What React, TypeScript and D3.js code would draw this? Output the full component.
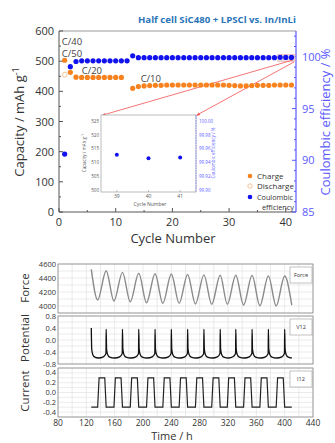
import React from "react";
import * as d3 from "d3";

// ---------- Top chart data ----------
const chargeCycles = [1, 2, 3, 4, 5, 6, 7, 8, 9, 10, 11, 13, 14, 15, 16, 17, 18, 19, 20, 21, 22, 23, 24, 25, 26, 27, 28, 29, 30, 31, 32, 33, 34, 35, 36, 37, 38, 39, 40, 41];
const chargeCap = [503, 463, 447, 446, 446, 446, 446, 446, 446, 446, 446, 410, 416, 418, 419, 420, 420, 421, 421, 421, 421, 421, 421, 421, 421, 421, 421, 421, 420, 419, 418, 418, 419, 420, 420, 420, 421, 421, 421, 421];
const dischargeCycles = [1];
const dischargeCap = [455];
const ceCycles = [1, 2, 3, 4, 5, 6, 7, 8, 9, 10, 11, 12, 13, 14, 15, 16, 17, 18, 19, 20, 21, 22, 23, 24, 25, 26, 27, 28, 29, 30, 31, 32, 33, 34, 35, 36, 37, 38, 39, 40, 41];
const ceValues = [90.6, 99.05, 99.55, 99.62, 99.62, 99.62, 99.62, 99.62, 99.62, 99.62, 99.62, 99.62, 100.1, 99.92, 99.92, 99.92, 99.92, 99.92, 99.92, 99.92, 99.92, 99.92, 99.92, 99.92, 99.92, 99.92, 99.92, 99.92, 99.92, 99.92, 99.92, 99.92, 99.92, 99.92, 99.92, 99.92, 99.92, 99.92, 99.951, 99.946, 99.947];
const xTicksTop = [0, 10, 20, 30, 40];
const yTicksLeft = [0, 100, 200, 300, 400, 500, 600];
const yTicksRight = [85, 90, 95, 100];
const rateLabels = ["C/40", "C/50", "C/20", "C/10"];
const rateLabelCycle = [0.5, 0.5, 4.0, 14.4];
const rateLabelCap = [555, 514, 458, 432];

// inset
const insetCycles = [39, 40, 41];
const insetCE = [99.951, 99.946, 99.947];
const insetXTicks = [39, 40, 41];
const insetLeftTicks = [500, 505, 510, 515, 520, 525];
const insetRightTicks = [99.9, 99.92, 99.94, 99.96, 99.98, 100.0];

// ---------- Bottom chart data ----------
const timeTicks = [80, 120, 160, 200, 240, 280, 320, 360, 400, 440];
const forceTicks = [4000, 4200, 4400, 4600];
const potTicks = [-0.8, -0.4, 0.0, 0.4, 0.8];
const curTicks = [-0.4, -0.2, 0.0, 0.2, 0.4];

const forceT = [127, 136, 148, 159, 171, 182, 194, 205, 217, 228, 240, 251, 263, 274, 286, 297, 309, 319, 331, 342, 354, 365, 377, 388, 400, 410];
const forceV = [4524, 4086, 4504, 4071, 4481, 4061, 4467, 4047, 4460, 4038, 4457, 4038, 4450, 4029, 4445, 4024, 4440, 4024, 4440, 4014, 4437, 4004, 4430, 4000, 4429, 4014];

const potT = [127, 127.6, 129, 132, 137, 144, 147.7, 148, 148.6, 150, 153, 160, 167, 170.7, 171, 171.6, 173, 176, 183, 190, 193.7, 194, 194.6, 196, 199, 206, 213, 216.7, 217, 217.6, 219, 222, 229, 236, 239.7, 240, 240.6, 242, 245, 252, 259, 262.7, 263, 263.6, 265, 268, 275, 282, 285.7, 286, 286.6, 288, 291, 298, 305, 308.7, 309, 309.6, 311, 314, 321, 327, 330.7, 331, 331.6, 333, 336, 343, 350, 353.7, 354, 354.6, 356, 359, 366, 373, 376.7, 377, 377.6, 379, 382, 389, 396, 399.7, 400, 400.6, 402, 405, 410];
const potV = [0.4, -0.3, -0.48, -0.57, -0.6, -0.56, -0.45, 0.36, -0.3, -0.48, -0.57, -0.6, -0.56, -0.45, 0.36, -0.3, -0.48, -0.57, -0.6, -0.56, -0.45, 0.36, -0.3, -0.48, -0.57, -0.6, -0.56, -0.45, 0.36, -0.3, -0.48, -0.57, -0.6, -0.56, -0.45, 0.36, -0.3, -0.48, -0.57, -0.6, -0.56, -0.45, 0.36, -0.3, -0.48, -0.57, -0.6, -0.56, -0.45, 0.36, -0.3, -0.48, -0.57, -0.6, -0.56, -0.45, 0.36, -0.3, -0.48, -0.57, -0.6, -0.56, -0.45, 0.36, -0.3, -0.48, -0.57, -0.6, -0.56, -0.45, 0.36, -0.3, -0.48, -0.57, -0.6, -0.56, -0.45, 0.36, -0.3, -0.48, -0.57, -0.6, -0.56, -0.45, 0.36, -0.3, -0.48, -0.57, -0.6];

const curT = [127, 136, 138, 146, 148, 159, 161, 169, 171, 182, 184, 192, 194, 205, 207, 215, 217, 228, 230, 238, 240, 251, 253, 261, 263, 274, 276, 284, 286, 297, 299, 307, 309, 319, 321, 329, 331, 342, 344, 352, 354, 365, 367, 375, 377, 388, 390, 398, 400, 410];
const curV = [-0.3, -0.3, 0.3, 0.3, -0.3, -0.3, 0.3, 0.3, -0.3, -0.3, 0.3, 0.3, -0.3, -0.3, 0.3, 0.3, -0.3, -0.3, 0.3, 0.3, -0.3, -0.3, 0.3, 0.3, -0.3, -0.3, 0.3, 0.3, -0.3, -0.3, 0.3, 0.3, -0.3, -0.3, 0.3, 0.3, -0.3, -0.3, 0.3, 0.3, -0.3, -0.3, 0.3, 0.3, -0.3, -0.3, 0.3, 0.3, -0.3, -0.3];

const ORANGE = "#f7821f";
const LIGHT_OR = "#f6c49a";
const BLUE = "#1212ee";
const AXBLUE = "#5a5aff";
const GRAY = "#555";
const FONT = "'Open Sans', 'Noto Sans', sans-serif";

export default function App() {
  // top chart scales
  const x = d3.scaleLinear().domain([0, 41.8]).range([59, 296]);
  const yL = d3.scaleLinear().domain([0, 600]).range([212, 31]);
  const yR = d3.scaleLinear().domain([85, 102.5]).range([212, 31]);

  // inset scales
  const ix = d3.scaleLinear().domain([38.5, 41.5]).range([101, 196]);
  const iyR = d3.scaleLinear().domain([99.9, 100.0]).range([190, 121]);
  const iyL = d3.scaleLinear().domain([500, 525]).range([190, 121]);

  // bottom scales
  const tx = d3.scaleLinear().domain([80, 440]).range([58, 313]);
  const yF = d3.scaleLinear().domain([3900, 4600]).range([313, 264]);
  const yP = d3.scaleLinear().domain([-0.8, 0.8]).range([364, 316]);
  const yC = d3.scaleLinear().domain([-0.5, 0.5]).range([417, 368]);

  const forceLine = d3.line<number>().x((_, i) => tx(forceT[i])).y((d) => yF(d)).curve(d3.curveMonotoneX)(forceV) || "";
  const potLine = d3.line<number>().x((_, i) => tx(potT[i])).y((d) => yP(d)).curve(d3.curveMonotoneX)(potV) || "";
  const curLine = d3.line<number>().x((_, i) => tx(curT[i])).y((d) => yC(d))(curV) || "";

  const minorX = d3.range(0, 42, 5);
  const minorL = d3.range(0, 601, 50);
  const minorR = d3.range(85, 102.1, 1);

  const panels = [
    { name: "Force", top: 264, bottom: 313, scale: yF, ticks: forceTicks, grid: d3.range(3900, 4601, 100), fmt: (v: number) => String(v), label: "Force", box: "Force", lc: 288 },
    { name: "Potential", top: 316, bottom: 364, scale: yP, ticks: potTicks, grid: d3.range(-0.8, 0.81, 0.2), fmt: (v: number) => v.toFixed(1), label: "Potential", box: "V12", lc: 338 },
    { name: "Current", top: 368, bottom: 417, scale: yC, ticks: curTicks, grid: d3.range(-0.5, 0.51, 0.1), fmt: (v: number) => v.toFixed(1), label: "Current", box: "I12", lc: 391 },
  ];
  const gridX = d3.range(80, 441, 20);

  return (
    <svg width={335} height={443} style={{ position: "absolute", left: 0, top: 0, background: "#fff" }} fontFamily={FONT}>
      {/* Title */}
      <text x={296} y={23} textAnchor="end" fontSize={9.5} fontWeight="bold" fill="#2a74b8" textLength={158} lengthAdjust="spacingAndGlyphs">Half cell SiC480 + LPSCl vs. In/InLi</text>

      {/* top frame */}
      <line x1={59} x2={296} y1={31} y2={31} stroke="#999" strokeWidth={1} />
      <line x1={59} x2={59} y1={31} y2={212} stroke={GRAY} strokeWidth={1} />
      <line x1={59} x2={296} y1={212} y2={212} stroke={GRAY} strokeWidth={1} />
      <line x1={296} x2={296} y1={31} y2={212} stroke={AXBLUE} strokeWidth={1.2} />

      {/* x ticks */}
      {minorX.map((v) => (
        <line key={"mx" + v} x1={x(v)} x2={x(v)} y1={212} y2={v % 10 === 0 ? 208 : 210} stroke={GRAY} />
      ))}
      {xTicksTop.map((v) => (
        <text key={"xt" + v} x={x(v)} y={226} textAnchor="middle" fontSize={11} fill="#333">{v}</text>
      ))}
      {minorL.map((v) => (
        <line key={"ml" + v} x1={59} x2={v % 100 === 0 ? 63 : 61} y1={yL(v)} y2={yL(v)} stroke={GRAY} />
      ))}
      {yTicksLeft.map((v) => (
        <text key={"yl" + v} x={54} y={yL(v) + 4} textAnchor="end" fontSize={11} fill="#333">{v}</text>
      ))}
      {minorR.map((v) => (
        <line key={"mr" + v} x1={296} x2={Math.round(v) % 5 === 0 ? 292 : 294} y1={yR(v)} y2={yR(v)} stroke={AXBLUE} />
      ))}
      {yTicksRight.map((v) => (
        <text key={"yr" + v} x={302} y={yR(v) + 4} fontSize={11} fill={AXBLUE}>{v}</text>
      ))}

      {/* axis titles */}
      <text x={173} y={243} textAnchor="middle" fontSize={13} fill="#333">Cycle Number</text>
      <text transform={`translate(24,122) rotate(-90)`} textAnchor="middle" fontSize={13} fill="#333">
        Capacity / mAh g<tspan dy={-5} fontSize={9}>-1</tspan>
      </text>
      <text transform={`translate(330,122) rotate(-90)`} textAnchor="middle" fontSize={13} fill={AXBLUE}>Coulombic efficiency / %</text>

      {/* rate labels */}
      {rateLabels.map((t, i) => (
        <text key={t} x={x(rateLabelCycle[i])} y={yL(rateLabelCap[i])} fontSize={9.5} fill="#444">{t}</text>
      ))}

      {/* magnifier rect and lines */}
      <rect x={x(38.6)} y={yR(100.25)} width={x(41.6) - x(38.6)} height={yR(99.55) - yR(100.25)} fill="#d8c8c8" fillOpacity={0.6} stroke="#f0b0b0" strokeWidth={0.6} />
      <line x1={293} y1={60} x2={103} y2={115} stroke="#f25050" strokeWidth={0.8} />
      <line x1={294} y1={62} x2={197} y2={115} stroke="#f25050" strokeWidth={0.8} />
      <path d="M101,116 l4,-3 l0.5,2.5 z" fill="#f25050" />
      <path d="M196,116 l3,-3.5 l1,2.5 z" fill="#f25050" />

      {/* data */}
      {dischargeCycles.map((c, i) => (
        <circle key={"d" + c} cx={x(c)} cy={yL(dischargeCap[i])} r={2.4} fill="#fff" stroke={LIGHT_OR} strokeWidth={1} />
      ))}
      {chargeCycles.map((c, i) => (
        <circle key={"c" + c} cx={x(c)} cy={yL(chargeCap[i])} r={2.6} fill={ORANGE} />
      ))}
      {ceCycles.map((c, i) => (
        <circle key={"e" + c} cx={x(c)} cy={yR(ceValues[i])} r={2.6} fill={BLUE} />
      ))}

      {/* inset */}
      <rect x={101} y={115} width={95} height={77} fill="#fff" stroke="#aaa" strokeWidth={0.8} />
      <line x1={196} x2={196} y1={115} y2={192} stroke={AXBLUE} strokeWidth={0.6} strokeDasharray="1.5,1" />
      {insetXTicks.map((v) => (
        <g key={"ix" + v}>
          <line x1={ix(v)} x2={ix(v)} y1={192} y2={190} stroke="#888" strokeWidth={0.5} />
          <text x={ix(v)} y={198} textAnchor="middle" fontSize={5} fill="#555">{v}</text>
        </g>
      ))}
      {insetLeftTicks.map((v) => (
        <text key={"il" + v} x={99} y={iyL(v) + 1.8} textAnchor="end" fontSize={4.5} fill="#555">{v}</text>
      ))}
      {insetRightTicks.map((v) => (
        <text key={"ir" + v} x={199} y={iyR(v) + 1.8} fontSize={4.5} fill={AXBLUE}>{v.toFixed(2)}</text>
      ))}
      <text x={150} y={206} textAnchor="middle" fontSize={5} fill="#555">Cycle Number</text>
      <text transform="translate(86,153) rotate(-90)" textAnchor="middle" fontSize={4.5} fill="#555">Capacity / mAh g<tspan dy={-2} fontSize={3.5}>-1</tspan></text>
      <text transform="translate(215,153) rotate(-90)" textAnchor="middle" fontSize={4.5} fill={AXBLUE}>Coulombic efficiency / %</text>
      {insetCycles.map((c, i) => (
        <circle key={"ic" + c} cx={ix(c)} cy={iyR(insetCE[i])} r={2} fill={BLUE} />
      ))}

      {/* legend */}
      <circle cx={250} cy={176} r={2.3} fill={ORANGE} />
      <text x={257} y={179} fontSize={8} fill="#333">Charge</text>
      <circle cx={250} cy={186} r={2.2} fill="#fff" stroke={LIGHT_OR} strokeWidth={1} />
      <text x={257} y={189} fontSize={8} fill="#333">Discharge</text>
      <circle cx={250} cy={197} r={2.3} fill={BLUE} />
      <text x={257} y={199.5} fontSize={8} fill="#333" textLength={36} lengthAdjust="spacingAndGlyphs">Coulombic</text>
      <text x={262} y={209.5} fontSize={8} fill="#333" textLength={32} lengthAdjust="spacingAndGlyphs">efficiency</text>

      {/* bottom panels */}
      {panels.map((p) => (
        <g key={p.name}>
          {gridX.map((g) => (
            <line key={"gx" + g} x1={tx(g)} x2={tx(g)} y1={p.top} y2={p.bottom} stroke="#ddd" strokeWidth={0.6} />
          ))}
          {p.grid.map((g) => (
            <line key={"gy" + g} x1={tx(80)} x2={tx(440)} y1={p.scale(g)} y2={p.scale(g)} stroke="#ddd" strokeWidth={0.6} />
          ))}
          <rect x={tx(80)} y={p.top} width={tx(440) - tx(80)} height={p.bottom - p.top} fill="none" stroke="#888" strokeWidth={0.8} />
          {p.ticks.map((v) => (
            <text key={"t" + v} x={tx(80) - 2} y={p.scale(v) + 2.5} textAnchor="end" fontSize={7.5} fill="#333">{p.fmt(v)}</text>
          ))}
          <text transform={`translate(29,${p.lc}) rotate(-90)`} textAnchor="middle" fontSize={11.5} fill="#333">{p.label}</text>
          <rect x={290} y={p.top + 3} width={22} height={16} fill="#fff" stroke="#999" strokeWidth={0.6} />
          <text x={301} y={p.top + 13} textAnchor="middle" fontSize={5.5} fill="#333">{p.box}</text>
        </g>
      ))}
      <path d={forceLine} fill="none" stroke="#8a8a8a" strokeWidth={1.4} />
      <path d={potLine} fill="none" stroke="#111" strokeWidth={1.3} />
      <path d={curLine} fill="none" stroke="#222" strokeWidth={1.2} />
      {timeTicks.map((v) => (
        <text key={"tt" + v} x={tx(v)} y={426} textAnchor="middle" fontSize={8.5} fill="#333">{v}</text>
      ))}
      <text x={172} y={440} textAnchor="middle" fontSize={11} fill="#333">Time / h</text>
    </svg>
  );
}
